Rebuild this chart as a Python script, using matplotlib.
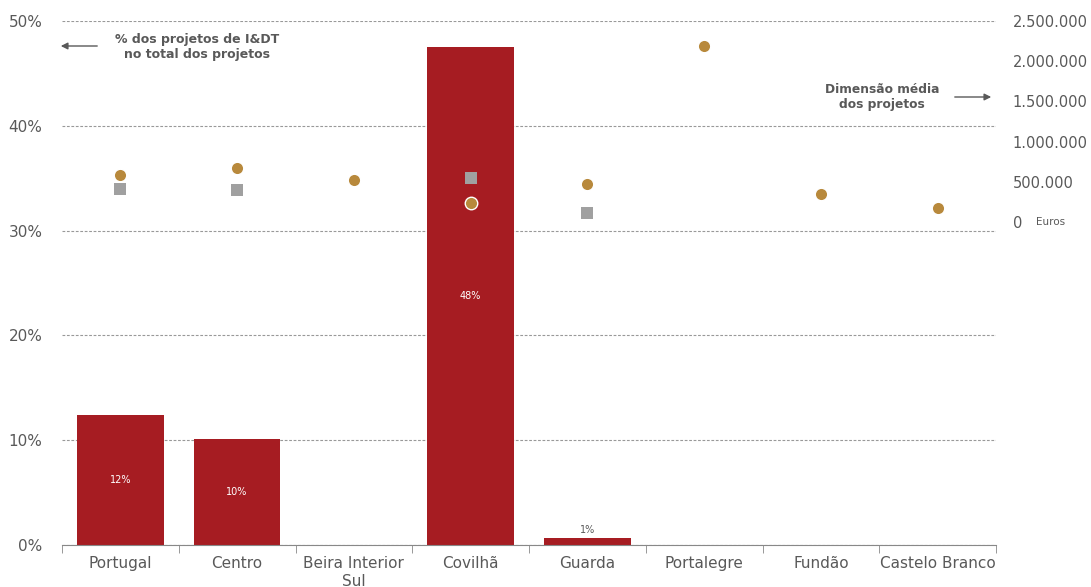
import matplotlib.pyplot as plt
import matplotlib.ticker as mticker
import numpy as np

# dados
regioes = ['Portugal', 'Centro', 'Beira Interior\nSul', 'Covilhã', 'Guarda',
           'Portalegre', 'Fundão', 'Castelo Branco']
pct_idt = [12.4, 10.1, 0, 47.5, 0.7, 0, 0, 0]          # % projetos I&DT
pct_labels = ['12%', '10%', '', '48%', '1%', '', '', '']
dim_media = [585000, 672000, 522000, 236000, 473000, 2190000, 348000, 174000]
dim_media_idt = [410000, 398000, None, 547000, 112000, None, None, None]

cinza = '#595959'
vermelho = '#A61C22'
ouro = '#B8893C'

plt.rcParams['font.family'] = ['DejaVu Sans']
fig = plt.figure(figsize=(10.91, 5.87), dpi=100)
ax = fig.add_axes([62/1091, 42/587, 934/1091, 524/587])

x = np.arange(len(regioes))
bars = ax.bar(x, pct_idt, width=0.74, color=vermelho, zorder=2)
for i, (v, lab) in enumerate(zip(pct_idt, pct_labels)):
    if not lab:
        continue
    if v > 5:
        ax.text(i, v / 2, lab, ha='center', va='center', color='white', fontsize=7)
    else:
        ax.text(i, v + 0.3, lab, ha='center', va='bottom', color=cinza, fontsize=7)

ax.set_xlim(-0.5, len(regioes) - 0.5)
ax.set_ylim(0, 50)
ax.set_yticks([0, 10, 20, 30, 40, 50])
ax.yaxis.set_major_formatter(mticker.FuncFormatter(lambda v, p: f'{v:.0f}%'))
ax.set_xticks(x)
ax.set_xticklabels(regioes)
ax.set_xticks(np.arange(-0.5, len(regioes)), minor=True)
ax.tick_params(axis='x', which='major', length=0, pad=8, labelsize=11, labelcolor=cinza)
ax.tick_params(axis='x', which='minor', length=6, color='#888888')
ax.tick_params(axis='y', length=0, pad=14, labelsize=11, labelcolor=cinza)
ax.yaxis.grid(True, linestyle=(0, (2.5, 1.5)), color='#999999', linewidth=0.8, zorder=0)
for s in ['top', 'right', 'left']:
    ax.spines[s].set_visible(False)
ax.spines['bottom'].set_color('#888888')
ax.set_axisbelow(True)

# eixo secundário
ax2 = ax.twinx()
ax2.set_ylim(-4017000, 2500000)
ax2.set_yticks([0, 500000, 1000000, 1500000, 2000000, 2500000])
ax2.yaxis.set_major_formatter(mticker.FuncFormatter(
    lambda v, p: f'{v:,.0f}'.replace(',', '.')))
ax2.tick_params(axis='y', length=0, pad=12, labelsize=10.5, labelcolor=cinza)
for s in ax2.spines.values():
    s.set_visible(False)

xs = [i for i, v in enumerate(dim_media_idt) if v is not None]
ys = [v for v in dim_media_idt if v is not None]
ax2.plot(xs, ys, 's', color='#A0A0A0', markersize=9, markeredgewidth=0, zorder=3)
ax2.plot(x, dim_media, 'o', color=ouro, markersize=9,
         markeredgecolor='white', markeredgewidth=1, zorder=4)

fig.text(1036/1091, 1 - 222/587, 'Euros', ha='left', va='center', fontsize=7.5, color=cinza)

# anotações
fig.text(197/1091, 1 - 47/587, '% dos projetos de I&DT\nno total dos projetos',
         ha='center', va='center', fontsize=9, fontweight='bold', color=cinza)
fig.patches.append(plt.matplotlib.patches.FancyArrowPatch(
    (100/1091, 1 - 46/587), (58/1091, 1 - 46/587), transform=fig.transFigure,
    arrowstyle='-|>', mutation_scale=10, color=cinza, linewidth=1))
fig.text(882/1091, 1 - 97/587, 'Dimensão média\ndos projetos',
         ha='center', va='center', fontsize=8.8, fontweight='bold', color=cinza)
fig.patches.append(plt.matplotlib.patches.FancyArrowPatch(
    (952/1091, 1 - 97/587), (994/1091, 1 - 97/587), transform=fig.transFigure,
    arrowstyle='-|>', mutation_scale=10, color=cinza, linewidth=1))

fig.savefig('out.png', dpi=100)
